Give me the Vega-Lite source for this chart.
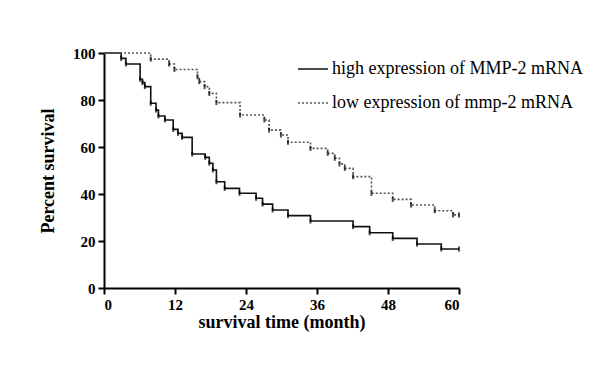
{
  "$schema": "https://vega.github.io/schema/vega-lite/v6.json",
  "width": 355,
  "height": 235,
  "autosize": {"type": "none"},
  "padding": {"left": 104, "top": 53, "right": 152, "bottom": 97},
  "background": "white",
  "config": {
    "view": {"stroke": null},
    "font": "Liberation Serif"
  },
  "data": {
    "values": [
      {"group": "high expression of MMP-2 mRNA", "month": 0, "pct": 100},
      {"group": "high expression of MMP-2 mRNA", "month": 2.9, "pct": 97.7},
      {"group": "high expression of MMP-2 mRNA", "month": 3.7, "pct": 95.3},
      {"group": "high expression of MMP-2 mRNA", "month": 6.1, "pct": 88.8},
      {"group": "high expression of MMP-2 mRNA", "month": 6.5, "pct": 87.4},
      {"group": "high expression of MMP-2 mRNA", "month": 6.9, "pct": 85.7},
      {"group": "high expression of MMP-2 mRNA", "month": 7.9, "pct": 78.6},
      {"group": "high expression of MMP-2 mRNA", "month": 8.8, "pct": 75.7},
      {"group": "high expression of MMP-2 mRNA", "month": 9.2, "pct": 73.2},
      {"group": "high expression of MMP-2 mRNA", "month": 10.3, "pct": 71.5},
      {"group": "high expression of MMP-2 mRNA", "month": 11.7, "pct": 67.5},
      {"group": "high expression of MMP-2 mRNA", "month": 12.5, "pct": 65.8},
      {"group": "high expression of MMP-2 mRNA", "month": 13.2, "pct": 64.1},
      {"group": "high expression of MMP-2 mRNA", "month": 14.9, "pct": 57.0},
      {"group": "high expression of MMP-2 mRNA", "month": 17.1, "pct": 55.6},
      {"group": "high expression of MMP-2 mRNA", "month": 17.8, "pct": 53.1},
      {"group": "high expression of MMP-2 mRNA", "month": 18.4, "pct": 50.2},
      {"group": "high expression of MMP-2 mRNA", "month": 19.0, "pct": 45.2},
      {"group": "high expression of MMP-2 mRNA", "month": 20.4, "pct": 42.4},
      {"group": "high expression of MMP-2 mRNA", "month": 22.9, "pct": 40.3},
      {"group": "high expression of MMP-2 mRNA", "month": 25.7, "pct": 38.2},
      {"group": "high expression of MMP-2 mRNA", "month": 26.8, "pct": 35.7},
      {"group": "high expression of MMP-2 mRNA", "month": 28.5, "pct": 33.2},
      {"group": "high expression of MMP-2 mRNA", "month": 31.1, "pct": 30.8},
      {"group": "high expression of MMP-2 mRNA", "month": 34.9, "pct": 28.5},
      {"group": "high expression of MMP-2 mRNA", "month": 42.1, "pct": 26.1},
      {"group": "high expression of MMP-2 mRNA", "month": 44.9, "pct": 23.5},
      {"group": "high expression of MMP-2 mRNA", "month": 48.8, "pct": 21.1},
      {"group": "high expression of MMP-2 mRNA", "month": 52.9, "pct": 18.7},
      {"group": "high expression of MMP-2 mRNA", "month": 57.0, "pct": 16.6},
      {"group": "high expression of MMP-2 mRNA", "month": 60, "pct": 16.6},
      {"group": "low expression of mmp-2 mRNA", "month": 0, "pct": 100},
      {"group": "low expression of mmp-2 mRNA", "month": 7.9, "pct": 97.4},
      {"group": "low expression of mmp-2 mRNA", "month": 11.0, "pct": 95.3},
      {"group": "low expression of mmp-2 mRNA", "month": 11.9, "pct": 93.0},
      {"group": "low expression of mmp-2 mRNA", "month": 15.8, "pct": 89.9},
      {"group": "low expression of mmp-2 mRNA", "month": 16.1, "pct": 87.8},
      {"group": "low expression of mmp-2 mRNA", "month": 17.0, "pct": 85.7},
      {"group": "low expression of mmp-2 mRNA", "month": 17.8, "pct": 82.8},
      {"group": "low expression of mmp-2 mRNA", "month": 19.0, "pct": 78.9},
      {"group": "low expression of mmp-2 mRNA", "month": 23.0, "pct": 73.6},
      {"group": "low expression of mmp-2 mRNA", "month": 27.1, "pct": 71.5},
      {"group": "low expression of mmp-2 mRNA", "month": 27.9, "pct": 67.2},
      {"group": "low expression of mmp-2 mRNA", "month": 29.9, "pct": 65.1},
      {"group": "low expression of mmp-2 mRNA", "month": 31.1, "pct": 62.0},
      {"group": "low expression of mmp-2 mRNA", "month": 34.9, "pct": 59.4},
      {"group": "low expression of mmp-2 mRNA", "month": 37.8, "pct": 57.3},
      {"group": "low expression of mmp-2 mRNA", "month": 39.0, "pct": 55.2},
      {"group": "low expression of mmp-2 mRNA", "month": 39.8, "pct": 52.8},
      {"group": "low expression of mmp-2 mRNA", "month": 40.7, "pct": 50.9},
      {"group": "low expression of mmp-2 mRNA", "month": 42.1, "pct": 47.4},
      {"group": "low expression of mmp-2 mRNA", "month": 45.2, "pct": 40.3},
      {"group": "low expression of mmp-2 mRNA", "month": 48.8, "pct": 37.7},
      {"group": "low expression of mmp-2 mRNA", "month": 51.9, "pct": 35.3},
      {"group": "low expression of mmp-2 mRNA", "month": 55.9, "pct": 32.9},
      {"group": "low expression of mmp-2 mRNA", "month": 59.0, "pct": 31.1},
      {"group": "low expression of mmp-2 mRNA", "month": 60, "pct": 31.1}
    ]
  },
  "encoding": {
    "x": {
      "field": "month", "type": "quantitative",
      "scale": {"domain": [0, 60], "nice": false, "zero": true},
      "axis": {
        "values": [0, 12, 24, 36, 48, 60],
        "title": "survival time (month)",
        "titleFont": "Liberation Serif", "titleFontSize": 18, "titleFontWeight": "bold", "titleColor": "black", "titlePadding": 1,
        "labelFont": "Liberation Serif", "labelFontSize": 15, "labelFontWeight": "bold", "labelColor": "black", "labelPadding": 3,
        "domainColor": "black", "domainWidth": 2, "tickColor": "black", "tickWidth": 2, "tickSize": 6,
        "grid": false
      }
    },
    "y": {
      "field": "pct", "type": "quantitative",
      "scale": {"domain": [0, 100], "nice": false},
      "axis": {
        "values": [0, 20, 40, 60, 80, 100],
        "title": "Percent survival",
        "titleFont": "Liberation Serif", "titleFontSize": 18, "titleFontWeight": "bold", "titleColor": "black", "titlePadding": 15,
        "labelFont": "Liberation Serif", "labelFontSize": 15, "labelFontWeight": "bold", "labelColor": "black", "labelPadding": 3,
        "domainColor": "black", "domainWidth": 2, "tickColor": "black", "tickWidth": 2, "tickSize": 6,
        "grid": false
      }
    }
  },
  "layer": [
    {
      "mark": {"type": "line", "interpolate": "step-after", "strokeWidth": 1.6},
      "encoding": {
        "color": {
          "field": "group", "type": "nominal",
          "scale": {"domain": ["high expression of MMP-2 mRNA", "low expression of mmp-2 mRNA"], "range": ["#111111", "#555555"]},
          "legend": {
            "orient": "none", "legendX": 193, "legendY": 0, "title": null,
            "symbolType": "stroke", "symbolSize": 900, "symbolStrokeWidth": 1.6,
            "labelFont": "Liberation Serif", "labelFontSize": 18, "labelColor": "black", "labelLimit": 400,
            "rowPadding": 9, "labelOffset": 3
          }
        },
        "strokeDash": {
          "field": "group", "type": "nominal",
          "scale": {"domain": ["high expression of MMP-2 mRNA", "low expression of mmp-2 mRNA"], "range": [[1, 0], [2, 2]]},
          "legend": null
        }
      }
    },
    {
      "transform": [{"filter": "datum.month > 0"}],
      "mark": {"type": "tick", "orient": "vertical", "size": 5, "thickness": 2, "color": "black"},
      "encoding": {}
    }
  ]
}
